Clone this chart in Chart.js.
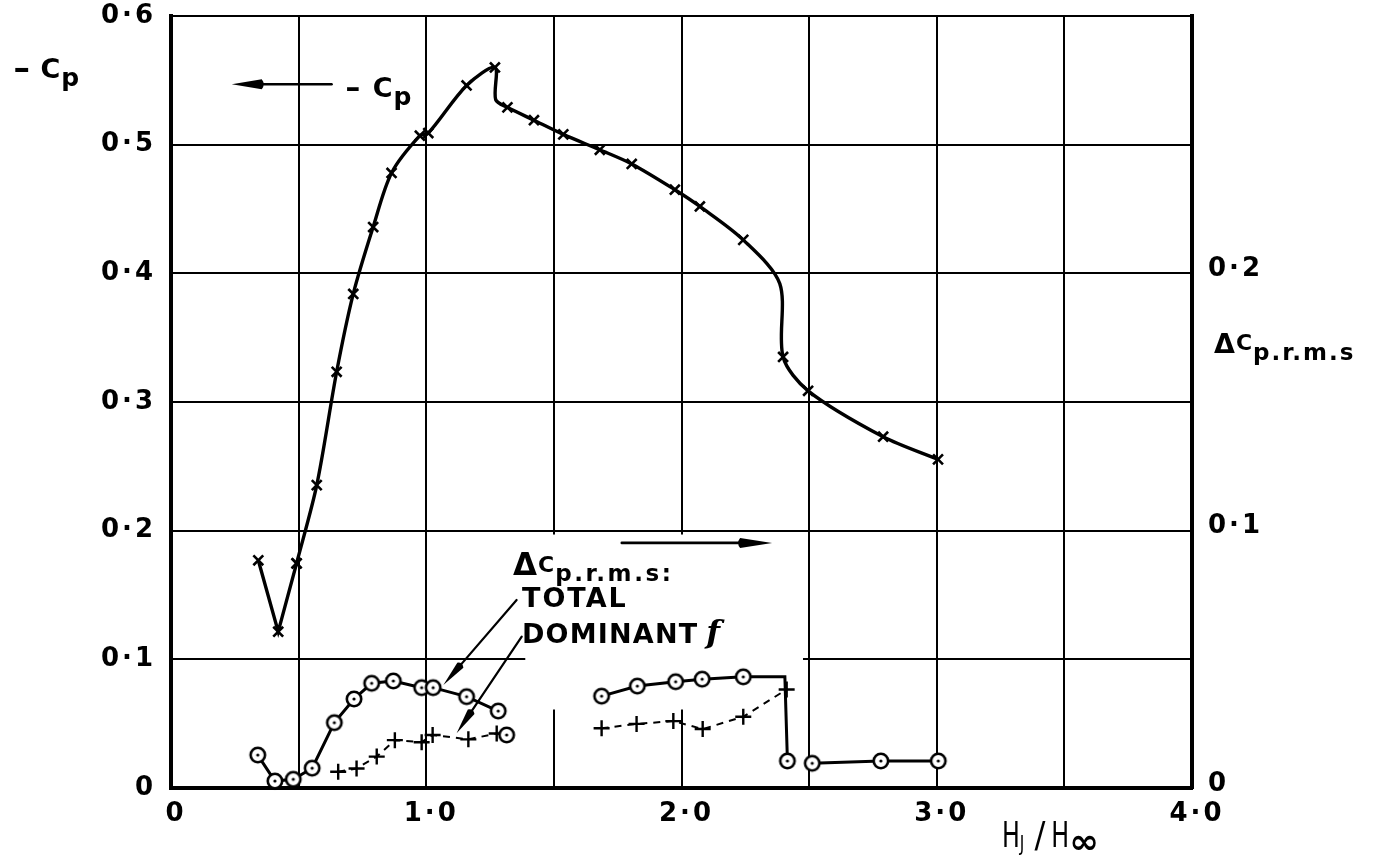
<!DOCTYPE html>
<html>
<head>
<meta charset="utf-8">
<script src="https://cdn.jsdelivr.net/npm/chart.js@4.4.1/dist/chart.umd.min.js"></script>
<style>
  html, body { margin: 0; padding: 0; background: #fff; }
  #wrap { width: 1379px; height: 855px; position: relative; }
</style>
</head>
<body>
<div id="wrap"><canvas id="c"></canvas></div>
<script>
// ---- -Cp against HJ/H∞ (left axis) ----
// opening dip, drawn with straight strokes
const cpVeeX = [0.342, 0.420, 0.492];
const cpVeeY = [0.177, 0.1215, 0.1746];
// main faired curve
const cpX = [0.492, 0.571, 0.649, 0.714, 0.792, 0.864, 0.975, 1.008, 1.158, 1.269, 1.272, 1.318, 1.422,
             1.537, 1.680, 1.805, 1.974, 2.072, 2.242, 2.385, 2.398, 2.496, 2.790, 3.005];
const cpY = [0.1746, 0.2354, 0.3235, 0.384, 0.436, 0.478, 0.507, 0.509, 0.546, 0.560, 0.535, 0.529, 0.519,
             0.508, 0.496, 0.485, 0.465, 0.452, 0.426, 0.392, 0.335, 0.3087, 0.273, 0.2554];
// vertices of the faired curve that carry no symbol (the two jumps)
const cpUnmarked = [1.272, 2.385];

// ---- ΔCp r.m.s. total (right axis), null = break in the line ----
const totalX = [0.340, 0.407, 0.479, 0.553, 0.640, 0.717, 0.786, 0.871, 0.982, 1.027, 1.158, 1.282, 1.48,
                1.687, 1.827, 1.977, 2.081, 2.242, 2.405, 2.415, 2.46,
                2.512, 2.781, 3.006];
const totalY = [0.0128, 0.0027, 0.0034, 0.0077, 0.0254, 0.0346, 0.0407, 0.0416, 0.0390, 0.0390, 0.0355, 0.0299, null,
                0.0357, 0.0396, 0.0413, 0.0423, 0.0432, 0.0432, 0.0105, null,
                0.0096, 0.0105, 0.0105];
const totalUnmarked = [2.405];

// ---- ΔCp r.m.s. at the dominant frequency (right axis) ----
const domX = [0.655, 0.727, 0.806, 0.877, 0.982, 1.025, 1.165, 1.276, 1.315, 1.50,
              1.687, 1.824, 1.968, 2.083, 2.242, 2.412];
const domY = [0.0063, 0.0076, 0.0122, 0.0186, 0.0178, 0.0206, 0.0189, 0.0212, 0.0206, null,
              0.0232, 0.0249, 0.0260, 0.0229, 0.0277, 0.0383];
const domCircled = [1.315];

// ---- tick labels ----
const xTickLabels = ['0', '1·0', '2·0', '3·0', '4·0'];
const cpTickLabels = ['0', '0·1', '0·2', '0·3', '0·4', '0·5', '0·6'];
const rmsTickLabels = ['0', '0·1', '0·2', ''];

const FONT = 'DejaVu Sans';
const pts = (xs, ys) => xs.map((x, i) => ({ x, y: ys[i] }));

// open circle with a centre dot
const ringDot = (() => {
  const c = document.createElement('canvas');
  c.width = 20; c.height = 20;
  const g = c.getContext('2d');
  g.fillStyle = '#fff';
  g.strokeStyle = '#000';
  g.lineWidth = 2.6;
  g.beginPath(); g.arc(10, 10, 7.2, 0, Math.PI * 2); g.fill(); g.stroke();
  g.fillStyle = '#000';
  g.beginPath(); g.arc(10, 10, 1.6, 0, Math.PI * 2); g.fill();
  return c;
})();

// text run with sub/superscript pieces: {t, s (px), dx, dy, w (weight), ls (letter spacing), sx (x scale), f (font)}
function rich(ctx, x, y, parts) {
  let cx = x;
  for (const p of parts) {
    cx += p.dx || 0;
    ctx.save();
    ctx.font = `${p.st || ''} ${p.w || 'bold'} ${p.s}px ${p.f || FONT}`;
    ctx.letterSpacing = (p.ls != null ? p.ls : 2) + 'px';
    ctx.textAlign = 'left';
    ctx.textBaseline = 'alphabetic';
    ctx.fillStyle = '#000';
    const sx = p.sx || 1;
    ctx.translate(cx, y + (p.dy || 0));
    ctx.scale(sx, 1);
    ctx.fillText(p.t, 0, 0);
    cx += ctx.measureText(p.t).width * sx;
    ctx.restore();
  }
}

function arrow(ctx, x1, y1, x2, y2, len, half, lw) {
  const a = Math.atan2(y2 - y1, x2 - x1);
  const ux = Math.cos(a), uy = Math.sin(a);
  ctx.save();
  ctx.strokeStyle = '#000'; ctx.fillStyle = '#000';
  ctx.lineWidth = lw; ctx.lineCap = 'round';
  ctx.beginPath(); ctx.moveTo(x1, y1); ctx.lineTo(x2 - ux * len * 0.5, y2 - uy * len * 0.5); ctx.stroke();
  const bx = x2 - ux * len, by = y2 - uy * len;
  ctx.beginPath();
  ctx.moveTo(x2, y2);
  ctx.lineTo(bx - uy * half, by + ux * half);
  ctx.quadraticCurveTo(bx - ux * 4, by - uy * 4, bx + uy * half, by - ux * half);
  ctx.closePath();
  ctx.fill();
  ctx.restore();
}

const decor = {
  id: 'decor',
  beforeDraw(chart) {
    chart.ctx.letterSpacing = '3px';
  },
  beforeDatasetsDraw(chart) {
    const { ctx, scales: { x, y } } = chart;
    ctx.save();
    ctx.fillStyle = '#fff';
    // 0·1 grid line left open behind the key
    const a = x.getPixelForValue(1.388), b = x.getPixelForValue(2.476), yy = y.getPixelForValue(0.1);
    ctx.fillRect(a, yy - 3, b - a, 6);
    // 1·5 and 2·0 verticals left open between 0·06 and 0·2
    const t = y.getPixelForValue(0.197), bt = y.getPixelForValue(0.061);
    const l = x.getPixelForValue(1.45), r = x.getPixelForValue(2.05);
    ctx.fillRect(l, t, r - l, bt - t);
    ctx.restore();
  },
  afterDatasetsDraw(chart) {
    const { ctx, scales: { x, y }, chartArea: ca } = chart;
    const X = v => x.getPixelForValue(v), Y = v => y.getPixelForValue(v);

    // left axis title
    rich(ctx, ca.left - 158, ca.top + 62, [
      { t: '-', s: 28, ls: 0, sx: 1.5 },
      { t: 'C', s: 27, dx: 10, ls: 1 },
      { t: 'p', s: 25, dy: 8 }
    ]);
    // right axis title
    rich(ctx, ca.right + 22, ca.top + 337, [
      { t: 'Δ', s: 27, ls: 1 },
      { t: 'C', s: 22, dy: -3, ls: 1 },
      { t: 'p.r.m.s', s: 23, dy: 7, ls: 2 }
    ]);
    // horizontal axis title
    rich(ctx, ca.right - 190, ca.bottom + 59, [
      { t: 'H', s: 36, sx: 0.66, ls: 0, w: 'normal' },
      { t: 'J', s: 22, dy: 4, sx: 0.7, ls: 0, w: 'normal' },
      { t: '/', s: 36, dx: 10, sx: 0.9, ls: 0, w: 'normal' },
      { t: 'H', s: 36, dx: 6, sx: 0.66, ls: 0, w: 'normal' },
      { t: '∞', s: 34, dy: 6, sx: 1.05, ls: 0, w: 'bold' }
    ]);

    // key for -Cp: arrow pointing to the left-hand scale
    arrow(ctx, X(0.629), Y(0.547), X(0.238), Y(0.547), 30, 5, 2.6);
    rich(ctx, X(0.682), Y(0.537), [
      { t: '-', s: 27, ls: 0, sx: 1.4 },
      { t: 'C', s: 27, dx: 12, ls: 1 },
      { t: 'p', s: 25, dy: 8 }
    ]);

    // key for ΔCp r.m.s.: arrow pointing to the right-hand scale
    arrow(ctx, X(1.766), Y(0.1905), X(2.355), Y(0.1905), 32, 5, 2.6);
    rich(ctx, X(1.340), Y(0.1655), [
      { t: 'Δ', s: 31, ls: 1 },
      { t: 'C', s: 22, dy: -3, ls: 1 },
      { t: 'p.r.m.s:', s: 23, dy: 6, ls: 2.6 }
    ]);
    rich(ctx, X(1.375), Y(0.1406), [{ t: 'TOTAL', s: 27, ls: 2 }]);
    rich(ctx, X(1.375), Y(0.1127), [
      { t: 'DOMINANT', s: 27, ls: 1.2 },
      { t: 'f', s: 32, dx: 8, st: 'italic', f: 'DejaVu Serif', ls: 0 }
    ]);
    // leaders from the key words to their curves
    arrow(ctx, X(1.354), Y(0.1461), X(1.067), Y(0.0801), 26, 4, 2.2);
    arrow(ctx, X(1.374), Y(0.1176), X(1.119), Y(0.0425), 26, 4, 2.2);
  }
};

const fmtIdx = (v, step) => Math.round(v / step);
const tickFont = { family: FONT, size: 26, weight: 'bold' };

// fixed frame: plot area spans 171..1192 across and 16..788 down
const fitVertical = w => s => { s.width = w; s.paddingTop = 16; s.paddingBottom = 0; };

new Chart(document.getElementById('c'), {
  type: 'line',
  data: {
    datasets: [
      {
        label: '-Cp dip',
        data: pts(cpVeeX, cpVeeY),
        yAxisID: 'y',
        borderColor: '#000', borderWidth: 3.4, tension: 0,
        pointStyle: 'crossRot', pointRadius: 7, pointBorderWidth: 2.6,
        pointBorderColor: '#000', pointBackgroundColor: '#000',
        clip: false
      },
      {
        label: '-Cp',
        data: pts(cpX, cpY),
        yAxisID: 'y',
        borderColor: '#000', borderWidth: 3.4, tension: 0.3,
        pointStyle: 'crossRot',
        pointRadius: c => (c.raw && cpUnmarked.includes(c.raw.x)) ? 0 : 7,
        pointBorderWidth: 2.6, pointBorderColor: '#000', pointBackgroundColor: '#000',
        clip: false
      },
      {
        label: 'ΔCp r.m.s. total',
        data: pts(totalX, totalY),
        yAxisID: 'y2',
        borderColor: '#000', borderWidth: 3, tension: 0,
        spanGaps: false,
        pointStyle: ringDot,
        pointRadius: c => (c.raw && totalUnmarked.includes(c.raw.x)) ? 0 : 8,
        clip: false
      },
      {
        label: 'ΔCp r.m.s. dominant f',
        data: pts(domX, domY),
        yAxisID: 'y2',
        borderColor: '#000', borderWidth: 2, borderDash: [7, 6], tension: 0,
        spanGaps: false,
        pointStyle: c => (c.raw && domCircled.includes(c.raw.x)) ? ringDot : 'cross',
        pointRadius: 8, pointBorderWidth: 2.4,
        pointBorderColor: '#000', pointBackgroundColor: '#000',
        clip: false
      }
    ]
  },
  options: {
    responsive: true,
    maintainAspectRatio: false,
    animation: false,
    events: [],
    layout: { padding: 0 },
    plugins: { legend: { display: false }, tooltip: { enabled: false } },
    scales: {
      x: {
        type: 'linear', position: 'bottom', min: 0, max: 4,
        afterFit: s => { s.height = 67; s.paddingLeft = 0; s.paddingRight = 0; },
        grid: { color: '#000', lineWidth: 2, drawTicks: false },
        border: { display: true, color: '#000', width: 4 },
        ticks: {
          stepSize: 0.5, autoSkip: false, maxRotation: 0, padding: 11, labelOffset: 5,
          color: '#000', font: tickFont,
          callback: v => {
            const i = fmtIdx(v, 1);
            return Math.abs(v - i) < 1e-6 ? xTickLabels[i] : '';
          }
        }
      },
      y: {
        type: 'linear', position: 'left', min: 0, max: 0.6,
        afterFit: fitVertical(171),
        grid: { color: '#000', lineWidth: 2, drawTicks: false },
        border: { display: true, color: '#000', width: 4 },
        ticks: {
          stepSize: 0.1, autoSkip: false, padding: 15,
          color: '#000', font: tickFont,
          callback: v => cpTickLabels[fmtIdx(v, 0.1)]
        }
      },
      y2: {
        type: 'linear', position: 'right', min: 0, max: 0.3,
        afterFit: fitVertical(187),
        grid: { display: false, drawTicks: false },
        border: { display: true, color: '#000', width: 4 },
        ticks: {
          stepSize: 0.1, autoSkip: false, padding: 16, labelOffset: -4,
          color: '#000', font: tickFont,
          callback: v => rmsTickLabels[fmtIdx(v, 0.1)]
        }
      }
    }
  },
  plugins: [decor]
});
</script>
</body>
</html>
